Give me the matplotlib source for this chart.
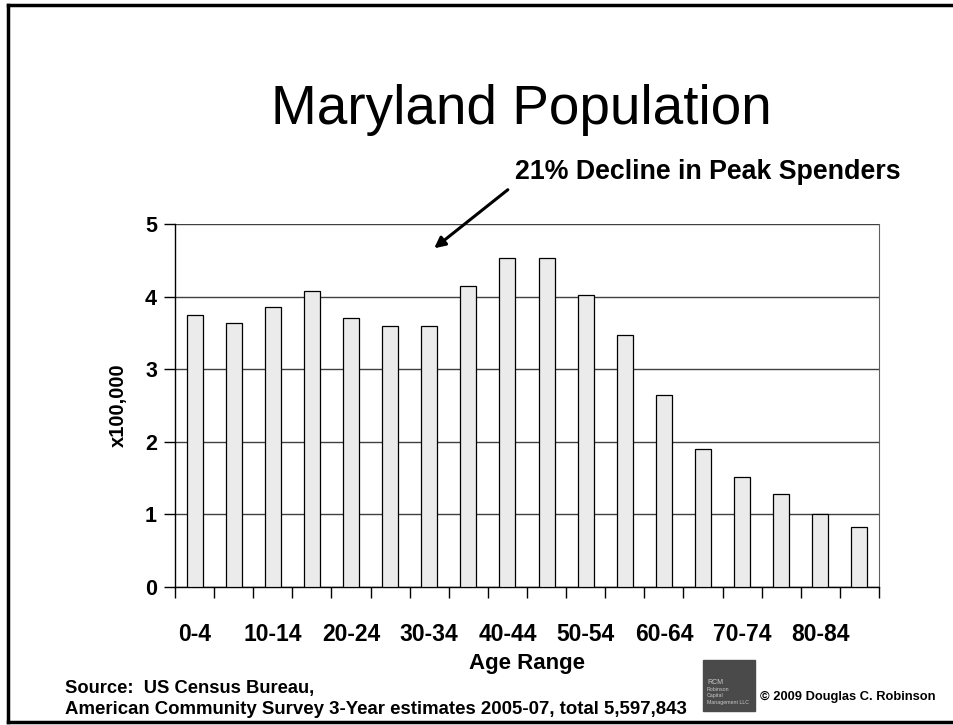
import numpy as np
import matplotlib
matplotlib.use('Agg')
import matplotlib.pyplot as plt
from matplotlib.lines import Line2D
from matplotlib.patches import Rectangle

plt.rcParams['font.family'] = ['Liberation Sans', 'DejaVu Sans']

# age groups (5-year bins) and population in units of 100,000
age_groups = ['0-4', '5-9', '10-14', '15-19', '20-24', '25-29', '30-34', '35-39',
              '40-44', '45-49', '50-54', '55-59', '60-64', '65-69', '70-74',
              '75-79', '80-84', '85+']
population = [3.75, 3.64, 3.86, 4.08, 3.70, 3.59, 3.59, 4.15, 4.53,
              4.53, 4.02, 3.47, 2.64, 1.90, 1.51, 1.28, 1.00, 0.83]
y_ticks = [0, 1, 2, 3, 4, 5]

W, H = 954, 725
fig = plt.figure(figsize=(W / 100, H / 100), dpi=100)
ax = fig.add_axes([175 / W, 1 - 587 / H, (879 - 175) / W, (587 - 224) / H])

x = np.arange(len(age_groups))
ax.bar(x, population, width=0.41, color='#ebebeb', edgecolor='black',
       linewidth=0.9, zorder=3)

ax.set_xlim(-0.5, len(age_groups) - 0.5)
ax.set_ylim(0, 5)
ax.set_yticks(y_ticks)
ax.set_yticklabels([str(t) for t in y_ticks], fontsize=15.5, fontweight='bold')
ax.yaxis.grid(True, color='#404040', linewidth=1.0, zorder=0)

# labels on every other age group, tick marks at category borders
ax.set_xticks(x[::2])
ax.set_xticklabels(age_groups[::2], fontsize=16.5, fontweight='bold')
ax.set_xticks(np.arange(-0.5, len(age_groups)), minor=True)
ax.tick_params(axis='x', which='major', length=0, pad=26)
ax.tick_params(axis='x', which='minor', length=8, width=1, direction='out')
ax.tick_params(axis='y', length=8, width=1, direction='out', pad=5)

for side in ['left', 'bottom']:
    ax.spines[side].set_color('black')
    ax.spines[side].set_linewidth(1.0)
ax.spines['right'].set_color('#606060')
ax.spines['top'].set_visible(False)

ax.set_ylabel('x100,000', fontsize=14.5, fontweight='bold', labelpad=12)
fig.text(527 / W, 1 - 664 / H, 'Age Range', fontsize=16, fontweight='bold',
         ha='center', va='center')

# title and annotation
fig.text(521 / W, 1 - 110 / H, 'Maryland Population', fontsize=39.5,
         ha='center', va='center')
fig.text(708 / W, 1 - 172 / H, '21% Decline in Peak Spenders', fontsize=19.3,
         fontweight='bold', ha='center', va='center')
ax.annotate('', xy=(432 / W, 1 - 250 / H), xycoords='figure fraction',
            xytext=(510 / W, 1 - 188 / H), textcoords='figure fraction',
            arrowprops=dict(arrowstyle='-|>', color='black', lw=2.2,
                            mutation_scale=16))

# footer
fig.text(65 / W, 1 - 689 / H, 'Source:  US Census Bureau,', fontsize=13.2,
         fontweight='bold', ha='left', va='center')
fig.text(65 / W, 1 - 710 / H,
         'American Community Survey 3-Year estimates 2005-07, total 5,597,843',
         fontsize=13.4, fontweight='bold', ha='left', va='center')
fig.text(760 / W, 1 - 697 / H, '\u00a9 2009 Douglas C. Robinson', fontsize=9.3,
         fontweight='bold', ha='left', va='center')

# small logo box
fig.patches.append(Rectangle((703 / W, 1 - 711 / H), 52 / W, 51 / H,
                             transform=fig.transFigure, color='#4a4a4a'))
logo_lines = ['RCM', 'Robinson', 'Capital', 'Management LLC']
for i, t in enumerate(logo_lines):
    fig.text(707 / W, 1 - (683 + i * 6.5) / H, t, fontsize=3.8 if i else 5,
             color='#c8c8c8', ha='left', va='center')

# slide frame
frame = dict(color='black', linewidth=2.5, transform=fig.transFigure)
fig.lines.append(Line2D([8 / W, 1.0], [1 - 5 / H, 1 - 5 / H], **frame))
fig.lines.append(Line2D([8 / W, 8 / W], [1 - 5 / H, 1 - 722 / H], **frame))
fig.lines.append(Line2D([8 / W, 1.0], [1 - 722 / H, 1 - 722 / H], **frame))

fig.savefig('out.png', dpi=100)
